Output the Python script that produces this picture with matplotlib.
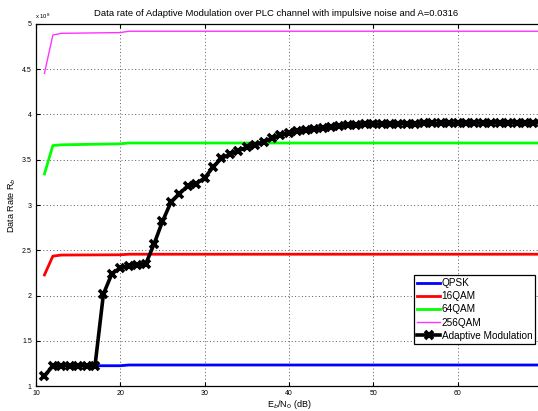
import matplotlib
matplotlib.use("Agg")
import matplotlib.pyplot as plt
from matplotlib.ticker import FuncFormatter

plt.rcParams['font.family'] = ['Liberation Sans', 'DejaVu Sans']

# Eb/N0 grid (dB) for the adaptive modulation scheme
snr_adaptive = list(range(11, 71))
# Data rate of the adaptive scheme, in units of 1e8 bit/s
rate_adaptive = [
    1.11, 1.224, 1.224, 1.224, 1.224, 1.224, 1.224, 2.017, 2.24, 2.305,
    2.328, 2.337, 2.345, 2.568, 2.818, 3.03, 3.125, 3.21, 3.237, 3.297,
    3.42, 3.515, 3.56, 3.60, 3.637, 3.662, 3.70, 3.737, 3.77, 3.80,
    3.815, 3.828, 3.84, 3.85, 3.86, 3.872, 3.88, 3.887, 3.89, 3.893,
    3.895, 3.897, 3.898, 3.90, 3.90, 3.902, 3.903, 3.904, 3.905, 3.905,
    3.906, 3.906, 3.907, 3.907, 3.908, 3.908, 3.908, 3.909, 3.909, 3.91,
]

# Fixed modulation schemes (breakpoints in Eb/N0, dB)
snr_fixed = [11, 12, 13, 20, 21, 70]
rate_qpsk = [1.11, 1.224, 1.224, 1.224, 1.232, 1.232]
rate_16qam = [2.227, 2.435, 2.447, 2.450, 2.456, 2.456]
rate_64qam = [3.343, 3.657, 3.665, 3.676, 3.685, 3.685]
rate_256qam = [4.455, 4.878, 4.897, 4.905, 4.92, 4.92]

x_ticks = [10, 20, 30, 40, 50, 60]
y_ticks = [1, 1.5, 2, 2.5, 3, 3.5, 4, 4.5, 5]

W, H = 538, 411
fig = plt.figure(figsize=(W / 100, H / 100), dpi=100)
ax = fig.add_axes([36 / W, 25 / H, 505.8 / W, 362 / H])

ax.plot(snr_fixed, rate_qpsk, color='#0000ff', lw=2.0, label='QPSK')
ax.plot(snr_fixed, rate_16qam, color='#ff0000', lw=2.0, label='16QAM')
ax.plot(snr_fixed, rate_64qam, color='#00ff00', lw=2.0, label='64QAM')
ax.plot(snr_fixed, rate_256qam, color='#ff33ff', lw=1.0, label='256QAM')
ax.plot(snr_adaptive, rate_adaptive, color='black', lw=2.6, marker='x',
        ms=5.5, mew=2.6, label='Adaptive Modulation')

ax.set_xlim(10, 70)
ax.set_ylim(1, 5)
ax.set_xticks(x_ticks)
ax.set_yticks(y_ticks)
ax.yaxis.set_major_formatter(FuncFormatter(lambda v, p: f"{v:g}"))
ax.tick_params(direction='in', length=3, width=0.8, labelsize=5,
               top=True, right=True, pad=3)
ax.grid(True, color='0.35', linestyle=(0, (1, 2.5)), linewidth=0.7)
for s in ax.spines.values():
    s.set_linewidth(0.9)
    s.set_color('black')

ax.set_xlabel('E$_b$/N$_0$ (dB)', fontsize=6.5, labelpad=0.5)
ax.set_ylabel('Data Rate R$_b$', fontsize=6.5, labelpad=3)

fig.text(276.5 / W, 1 - 14 / H, 'Data rate of Adaptive Modulation over PLC channel with impulsive noise and A=0.0316',
         ha='center', va='center', fontsize=6.8)
fig.text(35 / W, 1 - 16 / H, r'x 10$^8$', ha='left', va='center', fontsize=4.2)

leg = ax.legend(loc='upper left', bbox_to_anchor=(414 / W, 1 - 275 / H),
                bbox_transform=fig.transFigure, fontsize=7.2, frameon=True,
                fancybox=False, edgecolor='black', framealpha=1,
                handlelength=2.3, handletextpad=0.15, labelspacing=0.32,
                borderpad=0.3, borderaxespad=0)
leg.get_frame().set_linewidth(0.9)

fig.savefig('out.png', dpi=100)
